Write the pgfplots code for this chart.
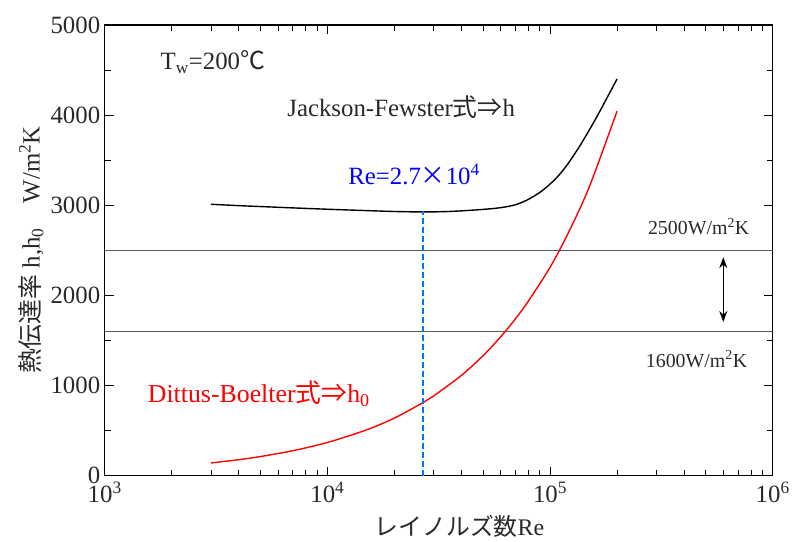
\documentclass[border=0pt]{standalone}
\usepackage{pgfplots}
\pgfplotsset{compat=1.18}
\usetikzlibrary{arrows.meta}
\usepackage{fontspec}
\setmainfont{Liberation Serif}
\newfontfamily\jp{Noto Sans CJK JP}
\definecolor{dashblue}{rgb}{0.0,0.45,1.0}
\definecolor{txt}{rgb}{0.16,0.16,0.16}
\begin{document}
\begin{tikzpicture}
\begin{axis}[
 xmode=log, scale only axis, width=670bp, height=452bp,
 xmin=1000, xmax=1000000, ymin=0, ymax=5000,
 ytick={0,1000,2000,3000,4000,5000},
 minor ytick={500,1500,2500,3500,4500},
 xtick={1000,10000,100000,1000000},
 xticklabels={10\textsuperscript{3},10\textsuperscript{4},10\textsuperscript{5},10\textsuperscript{6}},
 minor xtick={2000,3000,4000,5000,6000,7000,8000,9000,20000,30000,40000,50000,60000,70000,80000,90000,200000,300000,400000,500000,600000,700000,800000,900000},
 tick align=inside, major tick length=9bp, minor tick length=6bp,
 axis line style={line width=1.6bp},
 tick style={black, line width=0.8bp},
 /pgf/number format/assume math mode=true,
 /pgf/number format/set thousands separator={},
 ticklabel style={font=\fontsize{25}{28}\selectfont, text=txt},
 yticklabel style={xshift=-1bp},
 xticklabel style={yshift=-3bp},
 xlabel={{\jp レイノルズ数}Re},
 ylabel={{\jp 熱伝達率} h,h\textsubscript{0}\hspace{1em}W/m\textsuperscript{2}K},
 xlabel style={font=\fontsize{24}{27}\selectfont, text=txt, at={(axis description cs:0.531,-0.113)}, anchor=center},
 ylabel style={font=\fontsize{25}{28}\selectfont, text=txt, at={(axis description cs:-0.11,0.5)}, anchor=center},
 clip=false,
]
\addplot[color=gray!70!black, line width=0.9bp] coordinates {(1000,2500) (1000000,2500)};
\addplot[color=gray!70!black, line width=0.9bp] coordinates {(1000,1600) (1000000,1600)};
\addplot[color=black, line width=1.4bp, smooth] coordinates {
(3000,3010) (4000,2995) (5000,2985) (7000,2970) (10000,2955) (15000,2940) (20000,2930) (27000,2925) (35000,2930) (45000,2945) (55000,2962) (62000,2978) (70000,3005) (79000,3058) (90000,3142) (100000,3234) (110000,3337) (120000,3455) (135000,3644) (150000,3833) (165000,4013) (180000,4188) (200000,4400)};
\addplot[color=red, line width=1.4bp, smooth] coordinates {
(3000,140) (4000,176) (5000,211) (7000,276) (10000,367) (15000,507) (20000,638) (27000,812) (30000,883) (40000,1112) (50000,1329) (60000,1539) (70000,1740) (80000,1937) (100000,2310) (120000,2678) (150000,3202) (200000,4043)};
\addplot[color=dashblue, dash pattern=on 6bp off 3bp, line width=2bp] coordinates {(27000,0) (27000,2935)};
\addplot[color=black, line width=1.2bp, {Stealth[length=11bp,width=8bp]}-{Stealth[length=11bp,width=8bp]}] coordinates {(600000,2423) (600000,1704)};
\node[anchor=west, text=txt, font=\fontsize{25}{28}\selectfont, inner sep=0pt] at (axis cs:1780,4590) {T\textsubscript{w}=200{\jp ℃}};
\node[anchor=west, text=txt, font=\fontsize{25}{28}\selectfont, inner sep=0pt] at (axis cs:6600,4090) {Jackson-Fewster{\jp 式⇒}h};
\node[anchor=west, text=blue, font=\fontsize{25}{28}\selectfont, inner sep=0pt] at (axis cs:12400,3340) {Re=2.7{\jp ×}10\textsuperscript{4}};
\node[anchor=west, text=red, font=\fontsize{26}{29}\selectfont, inner sep=0pt] at (axis cs:1560,907) {Dittus-Boelter{\jp 式⇒}h\textsubscript{0}};
\node[anchor=west, text=txt, font=\fontsize{20}{24}\selectfont, inner sep=0pt] at (axis cs:275000,2765) {2500W/m\textsuperscript{2}K};
\node[anchor=west, text=txt, font=\fontsize{20}{24}\selectfont, inner sep=0pt] at (axis cs:269000,1294) {1600W/m\textsuperscript{2}K};
\end{axis}
\path (-105bp,-66bp) (688bp,477bp);
\end{tikzpicture}
\end{document}
